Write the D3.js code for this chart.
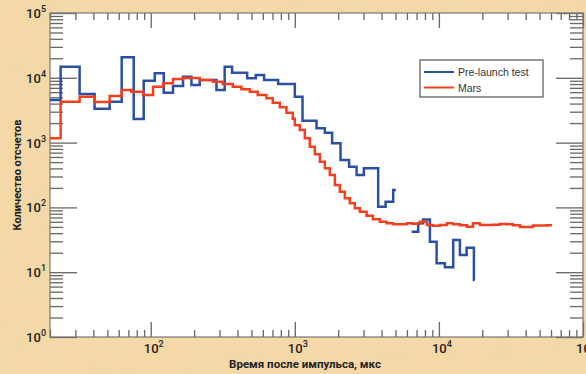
<!DOCTYPE html>
<html>
<head>
<meta charset="utf-8">
<script src="https://cdn.jsdelivr.net/npm/d3@7"></script>
<style>
  body { margin: 0; background: #f4d7a5; }
  svg { display: block; }
</style>
</head>
<body>
<div id="chart"></div>
<script>
// Time bin edges (мкс) and counts
const marsEdges = [20, 23.7, 32.1, 40.8, 51.9, 62.9, 73.4, 88.5, 103.8, 121.7, 142.8, 167.6, 218.8, 269.6, 316, 371, 426, 487, 553, 636, 703, 787, 875, 968, 1000, 1084, 1173, 1271, 1377, 1492, 1616, 1750, 1896, 2053, 2223, 2409, 2610, 2827, 3146, 3482, 3893, 4336, 4818, 5360, 5990, 6600, 7380, 8250, 9080, 10160, 11360, 12510, 13990, 15640, 17210, 19250, 21540, 23700, 26500, 29650, 32640, 36520, 40840, 44950, 50270, 56230, 60930];
const marsCounts = [1165, 4280, 5110, 4230, 5240, 6480, 6100, 5430, 7300, 8230, 9580, 9900, 9250, 8710, 8020, 7300, 6650, 6100, 5430, 4830, 4130, 3510, 2890, 2330, 1850, 1563, 1165, 865, 659, 507, 401, 316, 222, 175, 138, 116, 97, 86, 74, 65.5, 60, 57, 55, 55, 57, 56, 60, 53.5, 52, 53.5, 57, 55, 53, 50.5, 57, 53.5, 53.5, 54, 55.5, 55, 53, 50, 50, 52.5, 52.5, 53];

const testEdgesA = [20, 23.7, 32.1, 40.8, 51.9, 62.9, 76.2, 89.4, 106.6, 123.1, 142.8, 167.6, 191.7, 218.8, 286, 326, 367, 467, 536, 612, 766, 1000, 1131, 1415, 1616, 1815, 2076, 2381, 2683, 3013, 3789, 4265, 4818, 5027];
const testCountsA = [4540, 14830, 5620, 3330, 4280, 20700, 2310, 9020, 11730, 5890, 7500, 10400, 7740, 9250, 6500, 14830, 12000, 9820, 11050, 9250, 8000, 5110, 2180, 1660, 1420, 975, 539, 423, 316, 401, 102, 122, 186];

const testEdgesB = [6459, 7180, 7780, 8660, 9640, 11000, 12570, 13990, 15570, 17490, 17700];
const testCountsB = [42, 57, 65, 29.6, 13.7, 11.9, 31.4, 18.4, 23.9, 7.6];

const xMajor = [100, 1000, 10000, 100000];
const yMajor = [1, 10, 100, 1000, 10000, 100000];
const seriesNames = ['Pre-launch test', 'Mars'];
const seriesColors = ['#2c4fa6', '#f2401e'];

const width = 586, height = 374;
const plot = { left: 50, top: 13, right: 583, bottom: 337 };

const svg = d3.select('#chart')
  .append('svg')
  .attr('width', width)
  .attr('height', height);

// parchment texture behind the plot
const defs = svg.append('defs');
const paper = defs.append('filter').attr('id', 'paper').attr('x', 0).attr('y', 0).attr('width', '100%').attr('height', '100%');
paper.append('feTurbulence')
  .attr('type', 'fractalNoise')
  .attr('baseFrequency', '0.035 0.06')
  .attr('numOctaves', 3)
  .attr('seed', 4)
  .attr('result', 'noise');
paper.append('feColorMatrix')
  .attr('in', 'noise')
  .attr('type', 'matrix')
  .attr('values', '0 0 0 0 0.80  0 0 0 0 0.62  0 0 0 0 0.38  0 0 0 0.22 -0.02');

svg.append('rect').attr('width', width).attr('height', height).attr('fill', '#f5d9a8');
svg.append('rect').attr('width', width).attr('height', height).attr('filter', 'url(#paper)');

const x = d3.scaleLog().domain([20, 100000]).range([plot.left, plot.right]);
const y = d3.scaleLog().domain([1, 100000]).range([plot.bottom, plot.top]);

// plot background
svg.append('rect')
  .attr('x', plot.left)
  .attr('y', plot.top)
  .attr('width', plot.right - plot.left)
  .attr('height', plot.bottom - plot.top)
  .attr('fill', '#ffffff');

defs.append('clipPath')
  .attr('id', 'clip')
  .append('rect')
  .attr('x', plot.left)
  .attr('y', plot.top)
  .attr('width', plot.right - plot.left)
  .attr('height', plot.bottom - plot.top);

const xMinor = x.ticks().filter(d => !xMajor.includes(d) && d >= 20);
const yMinor = y.ticks().filter(d => !yMajor.includes(d));

function styleTicks(g) {
  g.select('.domain').remove();
  g.selectAll('.tick text').remove();
  g.selectAll('.tick line').attr('stroke', '#666').attr('stroke-width', 1.3);
}

// left / right: long ticks pointing inwards
svg.append('g').attr('transform', `translate(${plot.left},0)`)
  .call(d3.axisRight(y).tickValues(yMajor).tickSize(27)).call(styleTicks);
svg.append('g').attr('transform', `translate(${plot.left},0)`)
  .call(d3.axisRight(y).tickValues(yMinor).tickSize(13)).call(styleTicks);
svg.append('g').attr('transform', `translate(${plot.right},0)`)
  .call(d3.axisLeft(y).tickValues(yMajor).tickSize(27)).call(styleTicks);
svg.append('g').attr('transform', `translate(${plot.right},0)`)
  .call(d3.axisLeft(y).tickValues(yMinor).tickSize(13)).call(styleTicks);

// bottom / top
svg.append('g').attr('transform', `translate(0,${plot.bottom})`)
  .call(d3.axisTop(x).tickValues(xMajor).tickSize(15)).call(styleTicks);
svg.append('g').attr('transform', `translate(0,${plot.bottom})`)
  .call(d3.axisTop(x).tickValues(xMinor).tickSize(7)).call(styleTicks);
svg.append('g').attr('transform', `translate(0,${plot.top})`)
  .call(d3.axisBottom(x).tickValues(xMajor).tickSize(15)).call(styleTicks);
svg.append('g').attr('transform', `translate(0,${plot.top})`)
  .call(d3.axisBottom(x).tickValues(xMinor).tickSize(7)).call(styleTicks);

// frame
svg.append('rect')
  .attr('x', plot.left)
  .attr('y', plot.top)
  .attr('width', plot.right - plot.left)
  .attr('height', plot.bottom - plot.top)
  .attr('fill', 'none')
  .attr('stroke', '#777')
  .attr('stroke-width', 1.2);

// tick labels with superscripts
function powerLabel(sel, exp) {
  sel.append('tspan').text('10');
  sel.append('tspan').attr('dy', -6).attr('font-size', 9).text(exp);
}

yMajor.forEach(v => {
  const t = svg.append('text')
    .attr('x', 46)
    .attr('y', y(v) + 5)
    .attr('text-anchor', 'end')
    .attr('font-family', 'Roboto, sans-serif')
    .attr('font-weight', 500)
    .attr('font-size', 13)
    .attr('fill', '#222');
  powerLabel(t, Math.round(Math.log10(v)));
});

xMajor.forEach(v => {
  const t = svg.append('text')
    .attr('x', x(v) + 3)
    .attr('y', 353)
    .attr('text-anchor', 'middle')
    .attr('font-family', 'Roboto, sans-serif')
    .attr('font-weight', 500)
    .attr('font-size', 13)
    .attr('fill', '#222');
  powerLabel(t, Math.round(Math.log10(v)));
});

// axis titles
svg.append('text')
  .attr('x', 305)
  .attr('y', 368)
  .attr('text-anchor', 'middle')
  .attr('font-family', 'Roboto, sans-serif')
  .attr('font-weight', 700)
  .attr('font-size', 11.5)
  .attr('fill', '#222')
  .text('Время после импульса, мкс');

svg.append('text')
  .attr('transform', 'rotate(-90)')
  .attr('x', -175)
  .attr('y', 21)
  .attr('text-anchor', 'middle')
  .attr('font-family', 'Roboto, sans-serif')
  .attr('font-weight', 700)
  .attr('font-size', 11)
  .attr('fill', '#222')
  .text('Количество отсчетов');

// histogram steps
function stepPoints(edges, counts) {
  const pts = counts.map((c, i) => [edges[i], c]);
  pts.push([edges[edges.length - 1], counts[counts.length - 1]]);
  return pts;
}

const line = d3.line()
  .x(d => x(d[0]))
  .y(d => y(d[1]))
  .curve(d3.curveStepAfter);

const lines = svg.append('g').attr('clip-path', 'url(#clip)');

[[testEdgesA, testCountsA], [testEdgesB, testCountsB]].forEach(([e, c]) => {
  lines.append('path')
    .datum(stepPoints(e, c))
    .attr('fill', 'none')
    .attr('stroke', seriesColors[0])
    .attr('stroke-width', 2.5)
    .attr('d', line);
});

lines.append('path')
  .datum(stepPoints(marsEdges, marsCounts))
  .attr('fill', 'none')
  .attr('stroke', seriesColors[1])
  .attr('stroke-width', 2.5)
  .attr('d', line);

// legend
const legend = svg.append('g').attr('transform', 'translate(420,60)');
legend.append('rect')
  .attr('width', 123)
  .attr('height', 37)
  .attr('fill', '#fff')
  .attr('stroke', '#555')
  .attr('stroke-width', 1.2);

seriesNames.forEach((name, i) => {
  const yy = 12 + i * 15.5;
  legend.append('line')
    .attr('x1', 4).attr('x2', 34)
    .attr('y1', yy).attr('y2', yy)
    .attr('stroke', seriesColors[i])
    .attr('stroke-width', 2);
  legend.append('text')
    .attr('x', 38)
    .attr('y', yy + 4)
    .attr('font-family', '"Liberation Sans", Arial, sans-serif')
    .attr('font-size', 10.5)
    .attr('fill', '#333')
    .text(name);
});
</script>
</body>
</html>
